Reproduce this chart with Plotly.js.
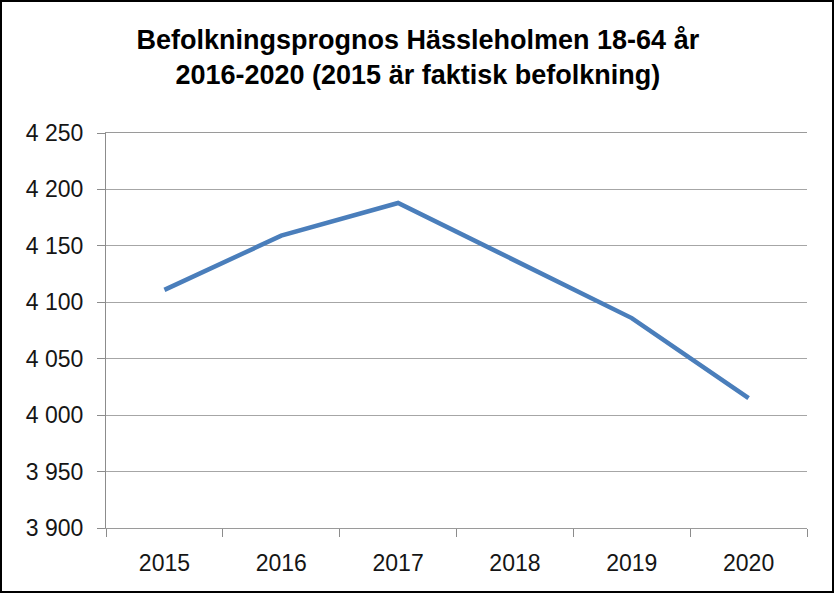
<!DOCTYPE html>
<html>
<head>
<meta charset="utf-8">
<script src="https://cdn.plot.ly/plotly-3.0.1.min.js"></script>
<style>
  html, body { margin: 0; padding: 0; background: #fff; }
  #chart { width: 830px; height: 589px; border: 2px solid #000; }
</style>
</head>
<body>
<div id="chart"></div>
<script>
const years = ['2015', '2016', '2017', '2018', '2019', '2020'];
const population = [4111, 4159, 4188, 4137, 4086, 4015];
const yTicks = [3900, 3950, 4000, 4050, 4100, 4150, 4200, 4250];
const titleText = 'Befolkningsprognos Hässleholmen 18-64 år<br>2016-2020 (2015 är faktisk befolkning)';

const trace = {
  x: years,
  y: population,
  type: 'scatter',
  mode: 'lines',
  line: { color: '#4a7ebb', width: 4.5 },
  hoverinfo: 'x+y'
};

const tickFont = { family: 'Liberation Sans, Arial, sans-serif', size: 23, color: '#151515' };

const layout = {
  width: 830,
  height: 589,
  separators: ', ',
  paper_bgcolor: '#ffffff',
  plot_bgcolor: '#ffffff',
  margin: { l: 104, r: 25, t: 131, b: 63 },
  showlegend: false,
  title: {
    text: titleText,
    font: { family: 'Liberation Sans, Arial, sans-serif', size: 27, color: '#000', weight: 'bold' },
    x: 0.501,
    xanchor: 'center',
    xref: 'container',
    y: 0.92,
    yanchor: 'top',
    yref: 'container'
  },
  xaxis: {
    type: 'category',
    range: [-0.5, 5.5],
    tickson: 'boundaries',
    ticks: 'outside',
    ticklen: 8,
    tickcolor: '#8c8c8c',
    showline: true,
    mirror: true,
    linecolor: '#9a9a9a',
    linewidth: 1,
    showgrid: false,
    ticklabelstandoff: 14,
    tickfont: tickFont,
    fixedrange: true
  },
  yaxis: {
    range: [3900, 4250],
    tickvals: yTicks,
    tickformat: ',d',
    ticks: 'outside',
    ticklen: 8,
    tickcolor: '#8c8c8c',
    showline: true,
    linecolor: '#8c8c8c',
    linewidth: 1,
    showgrid: true,
    gridcolor: '#a6a6a6',
    gridwidth: 1,
    zeroline: false,
    ticklabelstandoff: 9,
    tickfont: tickFont,
    fixedrange: true
  }
};

Plotly.newPlot('chart', [trace], layout, { displayModeBar: false });
</script>
</body>
</html>
